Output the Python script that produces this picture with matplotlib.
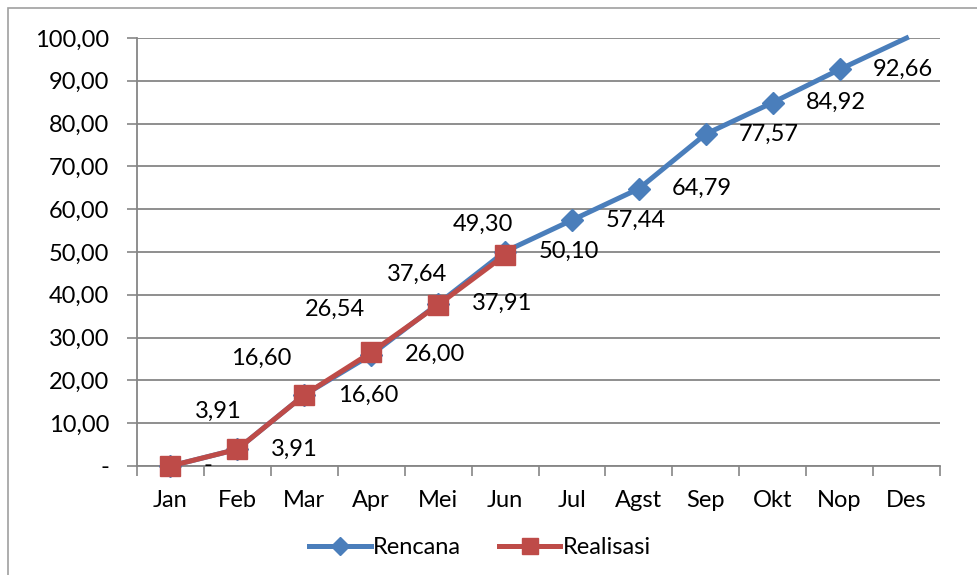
import matplotlib.pyplot as plt
from matplotlib.patches import Rectangle

months = ['Jan', 'Feb', 'Mar', 'Apr', 'Mei', 'Jun', 'Jul', 'Agst', 'Sep', 'Okt', 'Nop', 'Des']
rencana = [0, 3.91, 16.60, 26.00, 37.91, 50.10, 57.44, 64.79, 77.57, 84.92, 92.66, 100.00]
realisasi = [0, 3.91, 16.60, 26.54, 37.64, 49.30]
yticks = [0, 10, 20, 30, 40, 50, 60, 70, 80, 90, 100]

# label offsets for realisasi (points), placed by hand like the original
real_off = [(-20, 27), (-14, 27), (-31, 26), (-26, 31), (-15, 22), (-16, 22)]

plt.rcParams['font.family'] = ['Lato', 'DejaVu Sans']
blue = '#4A7EBB'
red = '#BE4B48'
grid = '#868686'
fs = 17

fig = plt.figure(figsize=(9.77, 5.75), dpi=100)
fig.patches.append(Rectangle((8 / 977, -0.1), 1.2, 1 - 8 / 575 + 0.1, transform=fig.transFigure,
                             fill=False, edgecolor='#A0A0A0', linewidth=1.2))
ax = fig.add_axes([137 / 977, 1 - 466 / 575, (940 - 137) / 977, (466 - 38) / 575])

x = list(range(len(months)))
ax.plot(x, rencana, color=blue, lw=3.6, marker='D', markersize=11, label='Rencana', zorder=3,
        markevery=list(range(len(months) - 1)), clip_on=False)
ax.plot(x[:len(realisasi)], realisasi, color=red, lw=3.6, marker='s', markersize=14,
        label='Realisasi', zorder=4, clip_on=False)

fmt = lambda v: '-' if v == 0 else f'{v:.2f}'.replace('.', ',')
for i, v in enumerate(rencana[:-1]):
    ax.annotate(fmt(v), (i, v), xytext=(24, 0), textcoords='offset points',
                ha='left', va='center', fontsize=fs, zorder=5)
for i, v in enumerate(realisasi):
    if v == 0:
        continue
    dx, dy = real_off[i]
    ax.annotate(fmt(v), (i, v), xytext=(dx, dy), textcoords='offset points',
                ha='center', va='center', fontsize=fs, zorder=5)

ax.set_xlim(-0.5, 11.5)
ax.set_ylim(0, 100)
ax.set_yticks(yticks)
ax.set_yticklabels([fmt(v) for v in yticks], fontsize=fs)
ax.set_xticks(x)
ax.set_xticklabels(months, fontsize=fs)
ax.set_xticks([i - 0.5 for i in range(13)], minor=True)
ax.tick_params(axis='x', which='major', length=0, pad=17)
ax.tick_params(axis='x', which='minor', length=7, color=grid, width=1.2)
ax.tick_params(axis='y', length=7, color=grid, width=1.2, pad=13)
ax.grid(axis='y', color=grid, lw=1.3)
ax.set_axisbelow(True)
for s in ['top', 'right']:
    ax.spines[s].set_visible(False)
for s in ['left', 'bottom']:
    ax.spines[s].set_color(grid)
    ax.spines[s].set_linewidth(1.3)

fig.legend(loc='center', bbox_to_anchor=(480 / 977, 1 - 548 / 575), ncol=2, frameon=False,
           fontsize=fs, handlelength=2.6, handletextpad=0.1, columnspacing=1.6, markerscale=0.8)

fig.savefig('out.png', dpi=100)
